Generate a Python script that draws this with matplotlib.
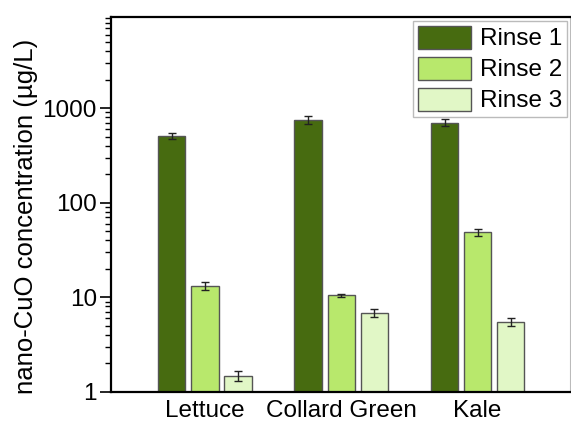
"""Rinse concentrations of nano-CuO on leafy greens (log bar chart)."""

import matplotlib

matplotlib.use("Agg")
import matplotlib.pyplot as plt
import numpy as np
from matplotlib.ticker import FixedLocator, LogLocator, NullFormatter

plt.rcParams["font.family"] = ["Liberation Sans", "DejaVu Sans"]

categories = ["Lettuce", "Collard Green", "Kale"]
series = ["Rinse 1", "Rinse 2", "Rinse 3"]
rinse1 = [505, 755, 705]
rinse2 = [13.2, 10.5, 48.5]
rinse3 = [1.48, 6.85, 5.5]
rinse1_err = [37, 70, 60]
rinse2_err = [1.2, 0.4, 4.0]
rinse3_err = [0.17, 0.6, 0.5]
colors = ["#476b10", "#b8e86c", "#e1f7c6"]
ytick_values = [1, 10, 100, 1000]
ytick_labels = ["1", "10", "100", "1000"]

fig = plt.figure(figsize=(5.71, 4.25), dpi=100)
ax = fig.add_axes([0.194, 0.078, 0.805, 0.882])

x = np.arange(len(categories))
width = 0.2
offset = 0.243
values = [rinse1, rinse2, rinse3]
errors = [rinse1_err, rinse2_err, rinse3_err]
for i, (vals, errs) in enumerate(zip(values, errors)):
    ax.bar(
        x + (i - 1) * offset,
        vals,
        width,
        yerr=errs,
        color=colors[i],
        edgecolor="#555555",
        linewidth=1.0,
        label=series[i],
        capsize=3,
        error_kw={"elinewidth": 1.0, "capthick": 1.0, "ecolor": "#222222"},
    )

ax.set_yscale("log")
ax.set_ylim(1, 9200)
ax.set_xlim(-0.69, 2.68)
ax.yaxis.set_major_locator(FixedLocator(ytick_values))
ax.set_yticklabels(ytick_labels)
ax.yaxis.set_minor_locator(LogLocator(base=10, subs=np.arange(2, 10)))
ax.yaxis.set_minor_formatter(NullFormatter())
ax.tick_params(axis="y", which="major", direction="out", length=8, width=1.2, labelsize=17.5, pad=2)
ax.tick_params(axis="y", which="minor", direction="out", length=4.3, width=1.0)
ax.set_xticks(x)
ax.set_xticklabels(categories)
ax.tick_params(axis="x", length=0, labelsize=17.5, pad=6)
ax.set_ylabel("nano-CuO concentration (\u00b5g/L)", fontsize=18.5)
ax.yaxis.set_label_coords(-0.158, 0.467)
for side in ["left", "bottom", "top"]:
    ax.spines[side].set_linewidth(1.6)
ax.spines["right"].set_linewidth(0.8)
ax.spines["right"].set_color("#bbbbbb")

leg = ax.legend(
    loc="upper right",
    fontsize=17.5,
    frameon=True,
    fancybox=False,
    edgecolor="#aaaaaa",
    handlelength=2.2,
    handleheight=1.1,
    handletextpad=0.35,
    labelspacing=0.25,
    borderpad=0.2,
    borderaxespad=0.15,
)
leg.get_frame().set_linewidth(1.0)

fig.savefig("out.png", dpi=100)
